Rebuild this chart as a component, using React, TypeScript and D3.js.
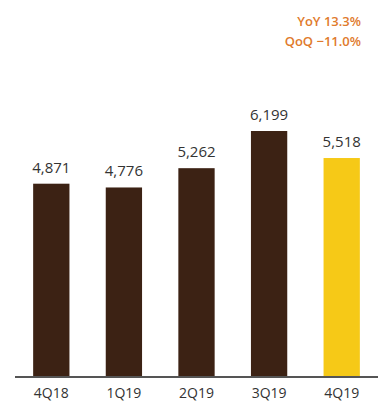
import React from "react";
import * as d3 from "d3";

const categories = ["4Q18", "1Q19", "2Q19", "3Q19", "4Q19"];
const values = [4871, 4776, 5262, 6199, 5518];
const highlight = ["4Q19"];
const notes = ["YoY 13.3%", "QoQ \u221211.0%"];

const W = 383;
const H = 405;
const baseY = 377;

export default function App() {
  const x = d3.scaleBand<string>().domain(categories).range([15, 378]).paddingInner(0.5).paddingOuter(0.25);
  const y = d3.scaleLinear().domain([0, 6199]).range([baseY, 131]);
  const fmt = d3.format(",");
  const font = "'Open Sans', 'Noto Sans', sans-serif";
  return (
    <svg width={W} height={H} style={{ position: "absolute", left: 0, top: 0 }}>
      <rect width={W} height={H} fill="#fff" />
      {categories.map((c, i) => (
        <g key={c}>
          <rect
            x={x(c)}
            y={y(values[i])}
            width={x.bandwidth()}
            height={baseY - y(values[i])}
            fill={highlight.includes(c) ? "#F6C917" : "#3C2214"}
          />
          <text
            x={(x(c) as number) + x.bandwidth() / 2}
            y={y(values[i]) - 11}
            textAnchor="middle"
            fontFamily={font}
            fontSize={15}
            fill="#333"
          >
            {fmt(values[i])}
          </text>
          <text
            x={(x(c) as number) + x.bandwidth() / 2}
            y={398}
            textAnchor="middle"
            fontFamily={font}
            fontSize={14}
            fill="#333"
          >
            {c}
          </text>
        </g>
      ))}
      <line x1={15} x2={378} y1={baseY} y2={baseY} stroke="#555" strokeWidth={2} />
      {notes.map((n, i) => (
        <text
          key={n}
          x={361}
          y={26 + i * 20}
          textAnchor="end"
          fontFamily={font}
          fontSize={13}
          fontWeight={600}
          fill="#E07A2C"
        >
          {n}
        </text>
      ))}
    </svg>
  );
}
